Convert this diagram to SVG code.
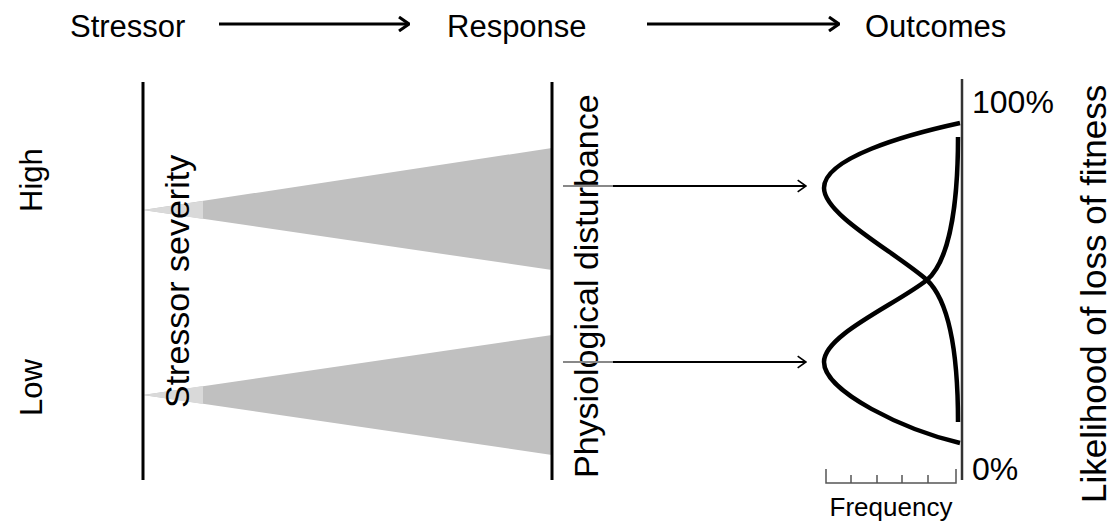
<svg xmlns="http://www.w3.org/2000/svg" width="1114" height="525" viewBox="0 0 1114 525">
<defs>
<style>
text{font-family:"Liberation Sans",Arial,sans-serif;fill:#000}
.big{font-size:31px}
.rot{font-size:34px}
.ax{stroke:#000;stroke-width:3;fill:none}
.curve{stroke:#000;stroke-width:4.5;fill:none;stroke-linejoin:round}
.arr{stroke:#000;fill:none}
</style>
<marker id="hd" viewBox="0 0 12 16" refX="11" refY="8" markerWidth="12" markerHeight="16" markerUnits="userSpaceOnUse" orient="auto">
<path d="M1,1 L11,8 L1,15" fill="none" stroke="#000" stroke-width="3"/>
</marker>
<marker id="hs" viewBox="0 0 12 16" refX="11" refY="8" markerWidth="10" markerHeight="14" markerUnits="userSpaceOnUse" orient="auto">
<path d="M1,1 L11,8 L1,15" fill="none" stroke="#000" stroke-width="2"/>
</marker>
</defs>
<rect width="1114" height="525" fill="#fff"/>
<g id="header">
<text class="big" x="70" y="37">Stressor</text>
<text class="big" x="447" y="37">Response</text>
<text class="big" x="865" y="37">Outcomes</text>
</g>
<g id="stressor">
<polygon points="143,210 552,148 552,270" fill="#c0c0c0"/>
<polygon points="143,210 203,201 203,219" fill="#d9d9d9"/>
<polygon points="143,395 552,335 552,455" fill="#c0c0c0"/>
<polygon points="143,395 203,386 203,404" fill="#d9d9d9"/>
<line class="ax" x1="143" y1="82" x2="143" y2="480"/>
<text class="rot" transform="translate(189,408) rotate(-90)">Stressor severity</text>
<text class="big" transform="translate(42,212) rotate(-90)">High</text>
<text class="big" transform="translate(42,416) rotate(-90)">Low</text>
</g>
<g id="response">
<line class="ax" x1="552" y1="82" x2="552" y2="480"/>
<text class="rot" transform="translate(598,478) rotate(-90)">Physiological disturbance</text>
</g>
<g id="outcomes">
<line x1="962" y1="79" x2="962" y2="480" stroke="#333" stroke-width="2.5"/>
<path class="curve" d="M960,123 C905,135 824,158 824,188 C824,215 895,252 927,280 C948,300 958,350 958,422"/>
<path class="curve" d="M960,443 C905,430 824,392 824,362 C824,335 895,305 927,280 C948,262 958,210 958,137"/>
<path d="M826,469 V483 H956 V469 M851,483 V475 M877,483 V475 M902,483 V475 M928,483 V475" fill="none" stroke="#555" stroke-width="1.5"/>
<text x="891" y="516" font-size="26" text-anchor="middle">Frequency</text>
<text class="big" x="972" y="113" style="font-size:32px">100%</text>
<text class="big" x="972" y="480" style="font-size:32px">0%</text>
<text class="rot" transform="translate(1106,503) rotate(-90)" style="font-size:35px">Likelihood of loss of fitness</text>
</g>
<g id="connectors">
<line class="arr" x1="219" y1="24" x2="409" y2="24" stroke-width="3" marker-end="url(#hd)"/>
<line class="arr" x1="647" y1="24" x2="839" y2="24" stroke-width="3" marker-end="url(#hd)"/>
<line x1="563" y1="186" x2="613" y2="186" stroke="#888" stroke-width="2"/>
<line class="arr" x1="613" y1="186" x2="806" y2="186" stroke-width="2" marker-end="url(#hs)"/>
<line x1="563" y1="362" x2="613" y2="362" stroke="#888" stroke-width="2"/>
<line class="arr" x1="613" y1="362" x2="806" y2="362" stroke-width="2" marker-end="url(#hs)"/>
</g>
</svg>
